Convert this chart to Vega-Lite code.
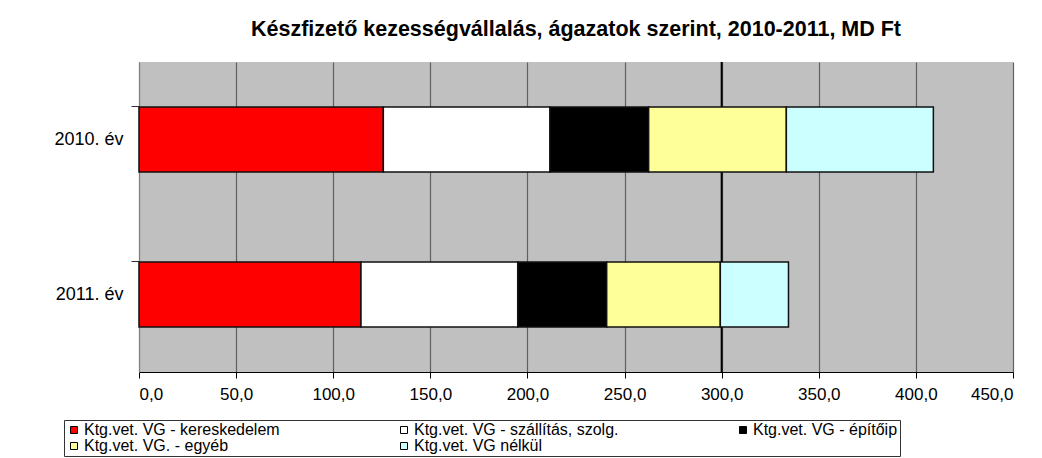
{
  "$schema": "https://vega.github.io/schema/vega-lite/v6.json",
  "width": 874,
  "height": 310,
  "autosize": {"type": "none"},
  "padding": {"left": 139, "top": 62, "right": 29, "bottom": 86},
  "background": "white",
  "title": {
    "text": "Készfizető kezességvállalás,  ágazatok szerint, 2010-2011, MD Ft",
    "font": "Liberation Sans",
    "fontSize": 21.5,
    "fontWeight": "bold",
    "color": "black",
    "anchor": "middle",
    "offset": 21
  },
  "config": {
    "view": {"fill": "#C0C0C0", "stroke": null},
    "font": "Liberation Sans"
  },
  "datasets": {
    "main": [
      {"ev": "2010. év", "n": 1, "kategoria": "Ktg.vet. VG - kereskedelem", "ertek": 125.8},
      {"ev": "2010. év", "n": 2, "kategoria": "Ktg.vet. VG - szállítás, szolg.", "ertek": 85.8},
      {"ev": "2010. év", "n": 3, "kategoria": "Ktg.vet. VG - építőip", "ertek": 50.8},
      {"ev": "2010. év", "n": 4, "kategoria": "Ktg.vet. VG. - egyéb", "ertek": 70.9},
      {"ev": "2010. év", "n": 5, "kategoria": "Ktg.vet. VG nélkül", "ertek": 75.7},
      {"ev": "2011. év", "n": 1, "kategoria": "Ktg.vet. VG - kereskedelem", "ertek": 114.3},
      {"ev": "2011. év", "n": 2, "kategoria": "Ktg.vet. VG - szállítás, szolg.", "ertek": 80.7},
      {"ev": "2011. év", "n": 3, "kategoria": "Ktg.vet. VG - építőip", "ertek": 45.8},
      {"ev": "2011. év", "n": 4, "kategoria": "Ktg.vet. VG. - egyéb", "ertek": 58.5},
      {"ev": "2011. év", "n": 5, "kategoria": "Ktg.vet. VG nélkül", "ertek": 35.1}
    ],
    "ref": [{"v": 300}]
  },
  "layer": [
    {
      "data": {"name": "ref"},
      "mark": {"type": "rule", "color": "black", "strokeWidth": 2},
      "encoding": {
        "x": {"field": "v", "type": "quantitative"}
      }
    },
    {
      "data": {"name": "main"},
      "mark": {"type": "bar", "stroke": "#111111", "strokeWidth": 1.5},
      "encoding": {
        "y": {
          "field": "ev",
          "type": "nominal",
          "sort": ["2010. év", "2011. év"],
          "scale": {"paddingInner": 0.58, "paddingOuter": 0.29},
          "axis": {
            "title": null,
            "labelFontSize": 18,
            "labelColor": "black",
            "labelPadding": 8,
            "tickSize": 8,
            "tickColor": "#333333",
            "bandPosition": 0,
            "domainColor": "#808080"
          }
        },
        "x": {
          "field": "ertek",
          "type": "quantitative",
          "stack": "zero",
          "scale": {"domain": [0, 450], "nice": false},
          "axis": {
            "title": null,
            "values": [0, 50, 100, 150, 200, 250, 300, 350, 400, 450],
            "labelExpr": "replace(format(datum.value, '.1f'), '.', ',')",
            "labelFontSize": 17,
            "labelColor": "black",
            "labelPadding": 8,
            "tickSize": 6,
            "tickColor": "black",
            "domainColor": "black",
            "grid": true,
            "gridColor": "#606060",
            "gridWidth": 1.2
          }
        },
        "color": {
          "field": "kategoria",
          "type": "nominal",
          "scale": {
            "domain": ["Ktg.vet. VG - kereskedelem", "Ktg.vet. VG - szállítás, szolg.", "Ktg.vet. VG - építőip", "Ktg.vet. VG. - egyéb", "Ktg.vet. VG nélkül"],
            "range": ["#FF0000", "#FFFFFF", "#000000", "#FFFF99", "#CCFFFF"]
          },
          "legend": {
            "title": null,
            "orient": "none",
            "legendX": -75,
            "legendY": 358,
            "columns": 3,
            "direction": "horizontal",
            "columnPadding": 116,
            "rowPadding": 0,
            "padding": 2,
            "strokeColor": "#333333",
            "symbolType": "square",
            "symbolSize": 49,
            "symbolStrokeColor": "black",
            "symbolStrokeWidth": 1,
            "symbolOpacity": 1,
            "labelFontSize": 16,
            "labelColor": "black",
            "labelOffset": 2,
            "labelLimit": 400
          }
        },
        "order": {"field": "n", "type": "quantitative"}
      }
    }
  ]
}
